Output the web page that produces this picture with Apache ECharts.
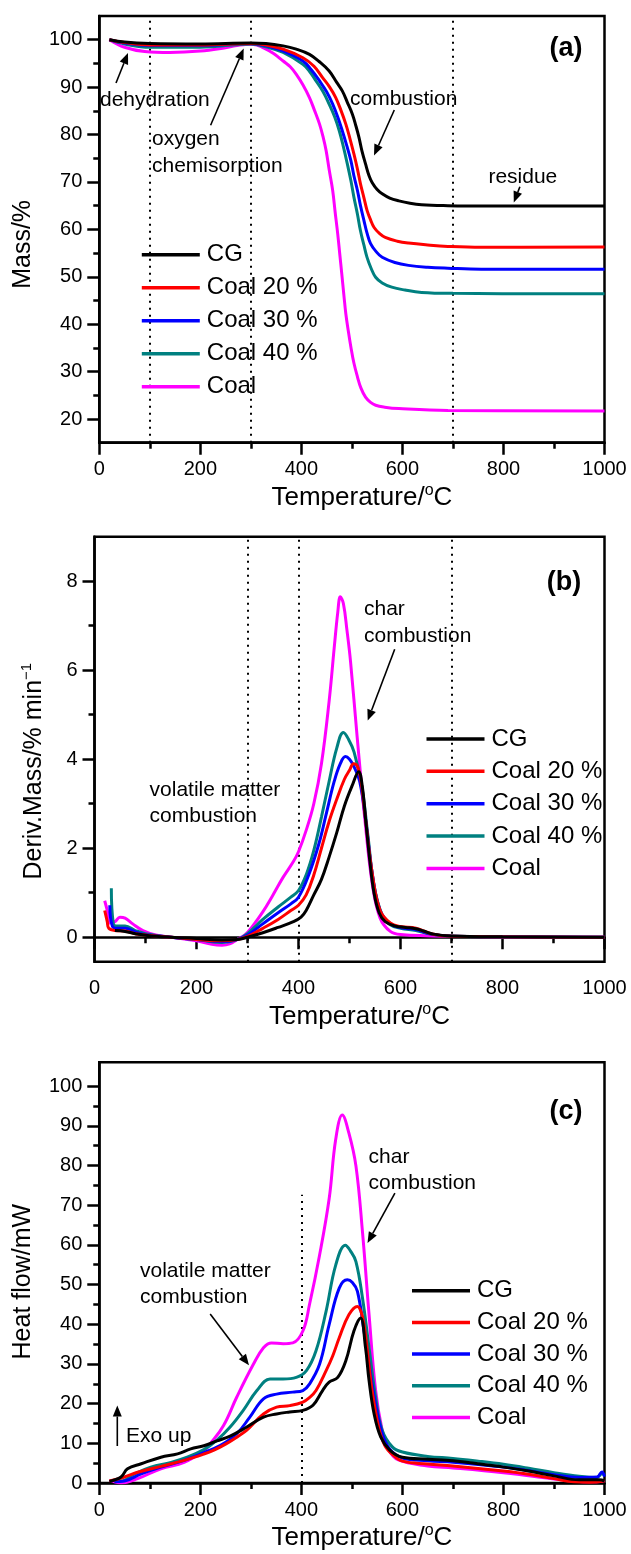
<!DOCTYPE html>
<html>
<head>
<meta charset="utf-8">
<script src="https://cdn.jsdelivr.net/npm/echarts@6/dist/echarts.min.js"></script>
<style>
html,body{margin:0;padding:0;background:#fff;}
#chart{width:631px;height:1554px;}
</style>
</head>
<body>
<div id="chart"></div>
<script>
// ---------- data ----------
const seriesNames = ['CG', 'Coal 20 %', 'Coal 30 %', 'Coal 40 %', 'Coal'];
const seriesColors = ['#000000', '#ff0000', '#0000ff', '#008080', '#ff00ff'];

// x ticks (temperature, °C)
const xMin = 0, xMax = 1000, xInterval = 200;

// (a) mass, %
const yTicksA = [20, 30, 40, 50, 60, 70, 80, 90, 100];
const yMinorA = [25, 35, 45, 55, 65, 75, 85, 95];
const massCG = [[20,100],[50,99.5],[100,99.2],[200,99.1],[300,99.3],[330,99.2],[364,98.7],[390,98.0],[416,96.9],[435,95.4],[455,93.4],[470,91.0],[481,89.2],[491,86.8],[501,84.3],[508,81.8],[514,79.4],[520,76.5],[527,73.8],[534,71.3],[540,69.9],[550,68.4],[560,67.5],[575,66.6],[593,66.0],[615,65.5],[638,65.2],[690,65.0],[756,64.9],[850,64.9],[1000,64.9]];
const massC20 = [[20,100],[50,99.4],[100,98.9],[200,98.9],[300,99.2],[330,98.9],[364,98.0],[403,96.2],[425,94.4],[442,92.0],[456,90.0],[468,87.8],[478,85.2],[488,82.2],[496,79.2],[504,75.9],[511,72.7],[517,69.6],[524,66.6],[530,64.0],[537,62.0],[544,60.4],[555,59.1],[566,58.3],[590,57.5],[612,57.1],[650,56.7],[690,56.4],[756,56.2],[1000,56.3]];
const massC30 = [[20,100],[50,99.3],[100,98.8],[200,98.8],[300,99.2],[330,98.7],[364,97.6],[403,95.5],[420,93.6],[436,91.3],[450,89.0],[462,86.4],[472,83.7],[481,80.8],[490,77.6],[498,74.5],[504,71.3],[511,68.2],[517,65.0],[524,61.8],[530,59.2],[537,57.0],[548,55.3],[560,54.1],[585,53.0],[612,52.4],[650,52.0],[690,51.8],[756,51.6],[1000,51.6]];
const massC40 = [[20,100],[50,99.1],[100,98.4],[200,98.4],[300,99.1],[330,98.5],[364,97.3],[403,94.8],[417,93.2],[429,91.3],[443,89.0],[455,86.4],[466,83.7],[475,80.8],[483,77.5],[491,73.8],[498,70.3],[504,66.8],[511,63.2],[517,59.7],[524,56.6],[530,54.1],[538,51.8],[547,49.9],[560,48.7],[579,47.8],[605,47.2],[638,46.7],[700,46.5],[1000,46.4]];
const massCoal = [[20,100],[50,98.4],[90,97.5],[140,97.3],[200,97.6],[250,98.3],[290,99.0],[305,99.0],[325,98.3],[345,97.1],[364,95.5],[378,94.3],[390,92.7],[403,90.5],[416,87.8],[426,85.1],[436,82.2],[443,79.5],[449,76.6],[455,72.6],[462,68.2],[467,63.5],[472,59.0],[476,54.8],[480,50.6],[484,46.3],[488,42.2],[493,38.5],[498,35.2],[504,31.8],[511,28.9],[518,26.5],[527,24.6],[537,23.5],[547,22.9],[565,22.5],[593,22.2],[690,21.8],[1000,21.7]];
const dottedA = [100, 300, 700];

// (b) derivative mass, %/min
const yTicksB = [0, 2, 4, 6, 8];
const yMinorB = [1, 3, 5, 7];
const dtgCG = [[40,0.15],[60,0.13],[80,0.08],[120,0.02],[200,-0.03],[250,-0.06],[280,-0.05],[300,0],[330,0.1],[360,0.22],[390,0.35],[405,0.45],[415,0.6],[430,0.95],[445,1.3],[460,1.8],[475,2.35],[490,2.95],[505,3.4],[518,3.72],[525,3.4],[532,2.6],[540,1.7],[548,1.0],[558,0.55],[570,0.35],[590,0.25],[610,0.22],[630,0.19],[645,0.14],[665,0.07],[700,0.03],[800,0.01],[1000,0]];
const dtgC20 = [[20,0.6],[25,0.35],[28,0.2],[40,0.15],[60,0.14],[80,0.08],[100,0.05],[150,0],[200,-0.05],[250,-0.08],[280,-0.05],[300,0.02],[330,0.2],[360,0.4],[385,0.6],[400,0.72],[415,0.95],[430,1.4],[445,2.0],[460,2.6],[475,3.1],[490,3.55],[500,3.75],[508,3.9],[515,3.85],[522,3.55],[532,2.6],[545,1.4],[560,0.6],[580,0.32],[600,0.24],[630,0.2],[660,0.08],[700,0.02],[1000,0]];
const dtgC30 = [[30,0.72],[35,0.25],[45,0.2],[60,0.2],[80,0.12],[100,0.06],[150,0],[200,-0.05],[250,-0.1],[280,-0.05],[300,0.05],[330,0.3],[360,0.55],[385,0.75],[400,0.9],[420,1.4],[440,2.1],[455,2.8],[470,3.5],[482,3.9],[492,4.06],[500,4.0],[508,3.85],[520,3.5],[532,2.6],[545,1.4],[560,0.6],[580,0.3],[600,0.22],[630,0.17],[660,0.07],[700,0.02],[1000,0]];
const dtgC40 = [[33,1.1],[37,0.3],[45,0.25],[60,0.25],[80,0.15],[100,0.08],[150,0.0],[200,-0.05],[250,-0.12],[280,-0.05],[300,0.08],[330,0.4],[360,0.68],[385,0.9],[400,1.05],[415,1.4],[430,1.95],[445,2.7],[460,3.5],[475,4.25],[488,4.6],[498,4.45],[509,4.16],[524,3.4],[536,2.3],[548,1.17],[564,0.5],[580,0.28],[600,0.2],[630,0.15],[660,0.07],[700,0.02],[1000,0]];
const dtgCoal = [[20,0.82],[25,0.6],[30,0.32],[40,0.35],[50,0.45],[60,0.43],[75,0.3],[95,0.15],[120,0.05],[150,0],[200,-0.08],[230,-0.16],[250,-0.18],[265,-0.15],[280,-0.05],[295,0.05],[310,0.25],[330,0.57],[350,0.95],[370,1.35],[390,1.7],[400,1.92],[415,2.4],[430,3.0],[445,3.9],[460,5.3],[470,6.5],[477,7.3],[482,7.65],[488,7.5],[495,6.9],[502,6.2],[515,4.5],[530,2.66],[545,1.17],[560,0.43],[580,0.13],[600,0.06],[700,0.02],[1000,0]];
const dottedB = [300, 400, 700];

// (c) heat flow, mW
const yTicksC = [0, 10, 20, 30, 40, 50, 60, 70, 80, 90, 100];
const yMinorC = [5, 15, 25, 35, 45, 55, 65, 75, 85, 95];
const heatCG = [[20,0.4],[43,1.5],[56,3.6],[83,4.85],[122,6.5],[155,7.35],[181,8.6],[207,9.4],[233,10.6],[259,11.8],[292,14.1],[325,16.6],[351,17.4],[377,17.9],[403,18.3],[423,19.6],[442,23.3],[455,25.4],[472,26.6],[488,30.8],[504,38.3],[517,41.6],[527,34.1],[534,25.8],[544,17.4],[557,11.6],[575,8.3],[600,6.5],[650,6.0],[700,5.6],[800,4.0],[850,3.0],[900,1.8],[950,0.8],[990,0.8],[1000,0.5]];
const heatC20 = [[20,0.5],[50,1.5],[76,2.7],[122,4.2],[168,5.7],[207,7.3],[227,8.3],[250,9.8],[275,11.8],[292,13.3],[325,17.4],[351,19.1],[377,19.5],[403,20.4],[416,21.5],[429,23.3],[449,28.3],[462,32.0],[475,36.6],[494,42.4],[511,44.5],[518,43.2],[524,39.9],[530,34.1],[540,23.3],[553,14.1],[565,9.5],[580,7.2],[600,5.5],[650,4.8],[700,4.3],[800,3.0],[850,2.2],[900,1.1],[940,0.3],[970,0.2],[1000,0.5]];
const heatC30 = [[30,0.3],[50,0.5],[83,2.3],[122,4.0],[168,5.7],[200,7.3],[240,9.5],[272,12.4],[298,16.6],[325,21.2],[351,22.4],[383,22.9],[403,23.3],[416,24.9],[436,29.9],[455,39.9],[475,49.1],[491,51.2],[501,50.5],[511,48.3],[524,38.3],[534,29.9],[547,19.9],[560,12.5],[575,8.5],[600,6.3],[650,5.6],[700,5.2],[800,4.0],[850,3.1],[900,2.1],[950,1.4],[985,1.5],[995,2.8],[1000,1.6]];
const heatC40 = [[30,0.5],[43,0.5],[70,2.3],[102,4.0],[142,5.2],[174,6.5],[207,8.4],[233,10.8],[259,14.1],[285,18.3],[312,23.3],[338,26.2],[364,26.2],[390,26.6],[410,28.3],[429,33.3],[449,43.3],[468,54.9],[487,59.9],[497,58.5],[508,55.8],[521,46.6],[534,34.1],[547,21.6],[560,13.3],[580,9.1],[600,7.8],[650,6.7],[700,6.2],[750,5.5],[800,4.7],[850,3.7],[900,2.6],[950,1.7],[985,1.4],[995,2.3],[1000,1.8]];
const heatCoal = [[20,0.65],[30,0.3],[43,0],[76,1.1],[122,3.6],[168,5.2],[207,8.1],[220,9.95],[246,14.5],[272,21.6],[305,29.9],[325,34.1],[341,35.3],[364,35.1],[383,35.3],[403,38.3],[416,44.9],[436,57.4],[455,71.6],[468,86.6],[481,92.7],[494,88.2],[508,79.9],[521,63.2],[534,42.4],[547,23.3],[560,13.3],[573,8.3],[592,5.8],[650,4.3],[700,3.8],[800,2.6],[850,1.8],[900,1.0],[950,0.4],[985,0.3],[1000,0.6]];
const dottedC = [[400, 0], [400, 72.6]];

// ---------- chart ----------
const FONT = "'Liberation Sans', Arial, Helvetica, sans-serif";
const chart = echarts.init(document.getElementById('chart'), null, {renderer: 'canvas'});

const grids = [
  {left: 94.5, right: 26.5, top: 16, height: 426.7},
  {left: 94.5, right: 26.5, top: 536.7, height: 425},
  {left: 94.5, right: 26.5, top: 1062.3, height: 424.3}
].map(g => Object.assign(g, {show: true, borderColor: '#000', borderWidth: 2.5, backgroundColor: 'transparent', containLabel: false}));

function xAx(g) {
  return {
    type: 'value', gridIndex: g, min: xMin, max: xMax, interval: xInterval,
    axisLine: {lineStyle: {color: '#000', width: 2.5}},
    axisTick: {length: 12, lineStyle: {color: '#000', width: 2.5}},
    minorTick: {show: true, splitNumber: 2, length: 6, lineStyle: {color: '#000', width: 2.5}},
    axisLabel: {fontSize: 20, color: '#000', margin: 17, fontFamily: FONT, formatter: v => String(v)},
    splitLine: {show: false}, minorSplitLine: {show: false},
    name: 'Temperature/{sup|o}C', nameLocation: 'middle', nameGap: 40,
    nameTextStyle: {fontSize: 26, color: '#000', fontFamily: FONT, lineHeight: 30, padding: [0, 0, 0, 20],
      rich: {sup: {fontSize: 16, color: '#000', fontFamily: FONT, verticalAlign: 'top', lineHeight: 30}}}
  };
}
function yMain(g, min, max, ticks, name, gap, shift) {
  return {
    type: 'value', gridIndex: g, min: min, max: max, position: 'left',
    axisLine: {show: true, lineStyle: {color: '#000', width: 2.5}},
    axisTick: {show: true, length: 12, customValues: ticks, lineStyle: {color: '#000', width: 2.5}},
    axisLabel: {fontSize: 20, color: '#000', margin: 17, fontFamily: FONT, customValues: ticks, formatter: v => String(v)},
    splitLine: {show: false},
    name: name, nameLocation: 'middle', nameGap: gap,
    nameTextStyle: {fontSize: 25, color: '#000', fontFamily: FONT, lineHeight: 30, padding: [0, shift, 0, 0],
      rich: {sup: {fontSize: 15, color: '#000', fontFamily: FONT, verticalAlign: 'top', lineHeight: 30}}}
  };
}
function yMinor(g, min, max, ticks) {
  return {
    type: 'value', gridIndex: g, min: min, max: max, position: 'left',
    axisLine: {show: false},
    axisTick: {show: true, length: 6, customValues: ticks, lineStyle: {color: '#000', width: 2.5}},
    axisLabel: {show: false}, splitLine: {show: false}
  };
}

const dataSets = [
  [massCG, massC20, massC30, massC40, massCoal],
  [dtgCG, dtgC20, dtgC30, dtgC40, dtgCoal],
  [heatCG, heatC20, heatC30, heatC40, heatCoal]
];
const markLineStyle = {type: [2, 5], color: '#000', width: 2};
const markLines = [
  dottedA.map(v => ({xAxis: v})),
  dottedB.map(v => ({xAxis: v})),
  [[{coord: dottedC[0]}, {coord: dottedC[1]}]]
];
const series = [];
dataSets.forEach((set, g) => {
  set.forEach((d, i) => {
    const s = {
      type: 'line', name: seriesNames[i], xAxisIndex: g, yAxisIndex: g * 2,
      data: d, symbol: 'none', smooth: 0.4,
      lineStyle: {color: seriesColors[i], width: 3}, itemStyle: {color: seriesColors[i]},
      z: 10 - i, silent: true
    };
    if (i === 0) {
      s.markLine = {silent: true, symbol: ['none', 'none'], label: {show: false},
        lineStyle: markLineStyle, data: markLines[g], z: 1};
    }
    series.push(s);
  });
});

function legend(left, top, gap) {
  return {
    data: seriesNames.map(n => ({name: n, icon: 'rect'})),
    orient: 'vertical', left: left, top: top, itemWidth: 58, itemHeight: 3.5,
    itemGap: gap, selectedMode: false,
    textStyle: {fontSize: 24, color: '#000', fontFamily: FONT, lineHeight: 24, padding: [0, 0, 0, 2]}
  };
}

// annotations
function txt(x, y, t, size, bold) {
  return {type: 'text', x: x, y: y, silent: true, z: 100,
    style: {text: t, fill: '#000', font: (bold ? 'bold ' : '') + size + 'px ' + FONT,
      textVerticalAlign: 'middle', verticalAlign: 'middle', textAlign: 'left', align: 'left'}};
}
function ctxt(x, y, t, size, bold) {
  const o = txt(x, y, t, size, bold); o.style.textAlign = 'center'; o.style.align = 'center'; return o;
}
function arrow(x1, y1, x2, y2) {
  const a = Math.atan2(y2 - y1, x2 - x1), L = 11, W = 4.5;
  const bx = x2 - L * Math.cos(a), by = y2 - L * Math.sin(a);
  return [
    {type: 'line', silent: true, z: 100, shape: {x1: x1, y1: y1, x2: bx, y2: by}, style: {stroke: '#000', lineWidth: 1.6}},
    {type: 'polygon', silent: true, z: 100, shape: {points: [[x2, y2], [bx + W * Math.sin(a), by - W * Math.cos(a)], [bx - W * Math.sin(a), by + W * Math.cos(a)]]}, style: {fill: '#000'}}
  ];
}
const graphics = [
  ctxt(566, 48.6, '(a)', 27, true),
  txt(100, 100, 'dehydration', 21),
  ...arrow(116, 83, 128, 53),
  txt(152, 139.5, 'oxygen', 21),
  txt(152, 166.5, 'chemisorption', 21),
  ...arrow(210.6, 125.3, 243.7, 48.6),
  txt(350, 99.3, 'combustion', 21),
  ...arrow(394.3, 110, 374, 155.5),
  txt(488.4, 177.2, 'residue', 21),
  ...arrow(519.9, 186.8, 513.8, 202.4),

  ctxt(564, 582.9, '(b)', 27, true),
  txt(364, 609.4, 'char', 21),
  txt(364, 636, 'combustion', 21),
  ...arrow(394.7, 649.3, 367.7, 720.6),
  txt(149.6, 790.4, 'volatile matter', 21),
  txt(149.6, 816.3, 'combustion', 21),

  ctxt(566, 1111.6, '(c)', 27, true),
  txt(368.6, 1157.2, 'char', 21),
  txt(368.6, 1183.2, 'combustion', 21),
  ...arrow(394.9, 1193.2, 367.5, 1243.1),
  txt(140, 1270.8, 'volatile matter', 21),
  txt(140, 1297.1, 'combustion', 21),
  ...arrow(210.2, 1314, 249, 1365.3),
  txt(126, 1436, 'Exo up', 21),
  ...arrow(117.3, 1446, 117.3, 1405.5)
];

chart.setOption({
  animation: false,
  backgroundColor: '#fff',
  textStyle: {fontFamily: FONT},
  grid: grids,
  xAxis: [xAx(0), xAx(1), xAx(2)],
  yAxis: [
    yMain(0, 15, 105, yTicksA, 'Mass/%', 55, 30), yMinor(0, 15, 105, yMinorA),
    yMain(1, -0.55, 9, yTicksB, 'Deriv.Mass/% min{sup|\u22121}', 45, 44), yMinor(1, -0.55, 9, yMinorB),
    yMain(2, 0, 106, yTicksC, 'Heat flow/mW', 45, 18), yMinor(2, 0, 106, yMinorC)
  ],
  legend: [
    legend(136.8, 237.7, 9),
    legend(421.5, 721.9, 8.4),
    legend(407, 1273.7, 7.7)
  ],
  series: series,
  graphic: graphics
});
</script>
</body>
</html>
